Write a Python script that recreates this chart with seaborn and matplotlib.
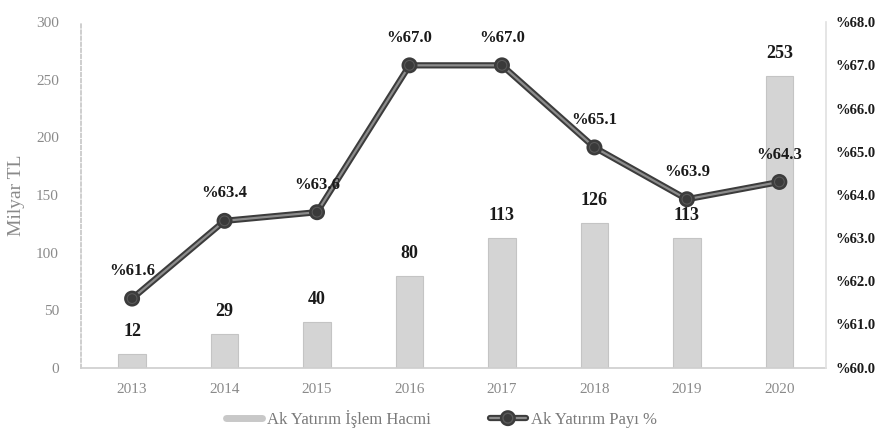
import pandas as pd
import seaborn as sns
import matplotlib.pyplot as plt
import matplotlib.patheffects as pe
from matplotlib.lines import Line2D

# --- Data ---
years = ["2013", "2014", "2015", "2016", "2017", "2018", "2019", "2020"]
volume = [12, 29, 40, 80, 113, 126, 113, 253]          # Milyar TL
share = [61.6, 63.4, 63.6, 67.0, 67.0, 65.1, 63.9, 64.3]  # %

bar_name = "Ak Yatırım İşlem Hacmi"
line_name = "Ak Yatırım Payı %"

df = pd.DataFrame({"Yil": years, "Hacim": volume, "Pay": share})

# --- Plot ---
sns.set_theme(style="white")
plt.rcParams["font.family"] = ["Liberation Serif", "DejaVu Serif"]

fig = plt.figure(figsize=(8.83, 4.43), dpi=100)
ax = fig.add_axes([0.092, 0.17, 0.843, 0.78])

sns.barplot(data=df, x="Yil", y="Hacim", color="#d4d4d4", width=0.3,
            edgecolor="#c4c4c4", linewidth=0.8, saturation=1, ax=ax)
ax.set_ylim(0, 300)
ax.set_xlim(-0.55, 7.5)
ax.set_yticks(range(0, 301, 50))
ax.set_xlabel("")
ax.set_ylabel("Milyar TL", color="#8a8a8a", fontsize=14, labelpad=8)
ax.tick_params(axis="both", colors="#8a8a8a", labelsize=11, length=0)
ax.tick_params(axis="y", pad=16)
ax.tick_params(axis="x", pad=11)

for s in ["top", "right"]:
    ax.spines[s].set_visible(False)
ax.spines["left"].set_color("#c8c8c8")
ax.spines["left"].set_linestyle((0, (2, 1.5)))
ax.spines["bottom"].set_color("#cfcfcf")

for i, v in enumerate(volume):
    ax.text(i, v + 12, f"{v}", ha="center", va="bottom",
            fontsize=13, fontweight="bold", color="#1a1a1a")

# --- Line on secondary axis ---
line_fx = [pe.Stroke(linewidth=4.5, foreground="#3c3c3c"), pe.Normal()]
ax2 = ax.twinx()
sns.lineplot(x=list(range(len(years))), y=share, ax=ax2, color="#8c8c8c",
             linewidth=1.6, marker="o", markersize=7,
             markerfacecolor="#3a3a3a", markeredgecolor="#5a5a5a",
             path_effects=line_fx)
ax2.set_ylim(60, 68)
ax2.set_yticks(range(60, 69))
ax2.set_yticklabels([f"%{t:.1f}" for t in range(60, 69)],
                    fontsize=10.5, fontweight="bold", color="#1a1a1a")
ax2.tick_params(axis="y", length=0, pad=7)
ax2.set_ylabel("")
for s in ["top", "left", "bottom"]:
    ax2.spines[s].set_visible(False)
ax2.spines["right"].set_color("#e2e2e2")

for i, v in enumerate(share):
    ax2.text(i, v + 0.45, f"%{v:.1f}", ha="center", va="bottom",
             fontsize=12, fontweight="bold", color="#1a1a1a")

# --- Legend ---
handles = [
    Line2D([0], [0], color="#c8c8c8", linewidth=5),
    Line2D([0], [0], color="#8c8c8c", linewidth=1.6, marker="o", markersize=7,
           markerfacecolor="#3a3a3a", markeredgecolor="#5a5a5a",
           path_effects=line_fx),
]
fig.legend(handles, [bar_name, line_name], loc="lower center",
           bbox_to_anchor=(0.5, 0.0), ncol=2, frameon=False, fontsize=12,
           labelcolor="#7a7a7a", handlelength=2.2, columnspacing=3.5,
           handletextpad=0.3)

fig.savefig("out.png", dpi=100)
plt.close(fig)
